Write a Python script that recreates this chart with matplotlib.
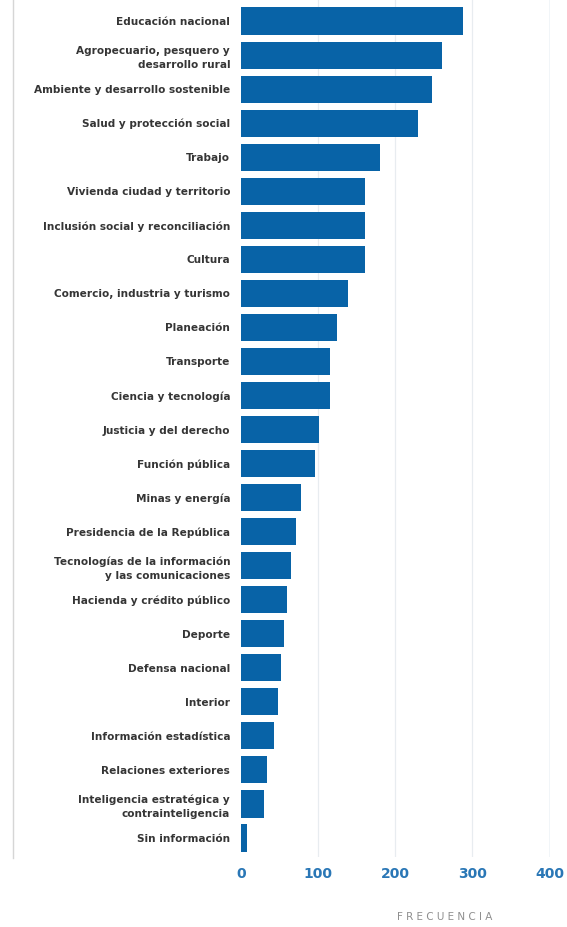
import matplotlib.pyplot as plt
from matplotlib.lines import Line2D

# Datos
sectores = [
    "Educación nacional",
    "Agropecuario, pesquero y\ndesarrollo rural",
    "Ambiente y desarrollo sostenible",
    "Salud y protección social",
    "Trabajo",
    "Vivienda ciudad y territorio",
    "Inclusión social y reconciliación",
    "Cultura",
    "Comercio, industria y turismo",
    "Planeación",
    "Transporte",
    "Ciencia y tecnología",
    "Justicia y del derecho",
    "Función pública",
    "Minas y energía",
    "Presidencia de la República",
    "Tecnologías de la información\ny las comunicaciones",
    "Hacienda y crédito público",
    "Deporte",
    "Defensa nacional",
    "Interior",
    "Información estadística",
    "Relaciones exteriores",
    "Inteligencia estratégica y\ncontrainteligencia",
    "Sin información",
]
frecuencia = [288, 260, 247, 229, 180, 160, 160, 160, 138, 124, 115, 115,
              101, 95, 77, 71, 65, 59, 55, 51, 47, 43, 33, 30, 8]
ticks_x = [0, 100, 200, 300, 400]

plt.rcParams['font.family'] = ['DejaVu Sans']

fig = plt.figure(figsize=(5.67, 9.27), dpi=100)
ax = fig.add_axes([0.4256, 0.0755, 0.5436, 0.9245])

pos = list(range(len(sectores)))
ax.barh(pos, frecuencia, height=0.8, color='#0863a7', zorder=3)

ax.set_ylim(24.56, -0.62)
ax.set_xlim(0, 400)
ax.set_yticks(pos)
ax.set_yticklabels(sectores, fontsize=7.6, fontweight='bold', color='#353535',
                   linespacing=1.45)
for t in ax.get_yticklabels():
    t.set_horizontalalignment('right')
ax.set_xticks(ticks_x)
ax.set_xticklabels([str(v) for v in ticks_x], fontsize=10, fontweight='bold',
                   color='#2a77b6')
ax.tick_params(axis='y', length=0, pad=8)
ax.tick_params(axis='x', length=0, pad=7)

for v in ticks_x[1:-1]:
    ax.axvline(v, color='#e8ecf0', lw=0.9, zorder=1)
ax.axvline(400, color='#b8cde0', lw=1.0, zorder=1)

for s in ax.spines.values():
    s.set_visible(False)

ax.set_xlabel("F R E C U E N C I A", fontsize=7.5, color='#8f8f8f')
ax.xaxis.set_label_coords(0.66, -0.064)

# linea de borde a la izquierda
fig.add_artist(Line2D([13 / 567, 13 / 567], [1, 1 - 858 / 927],
                      color='#d6d6d6', lw=1.0))

plt.savefig("out.png", dpi=100)
